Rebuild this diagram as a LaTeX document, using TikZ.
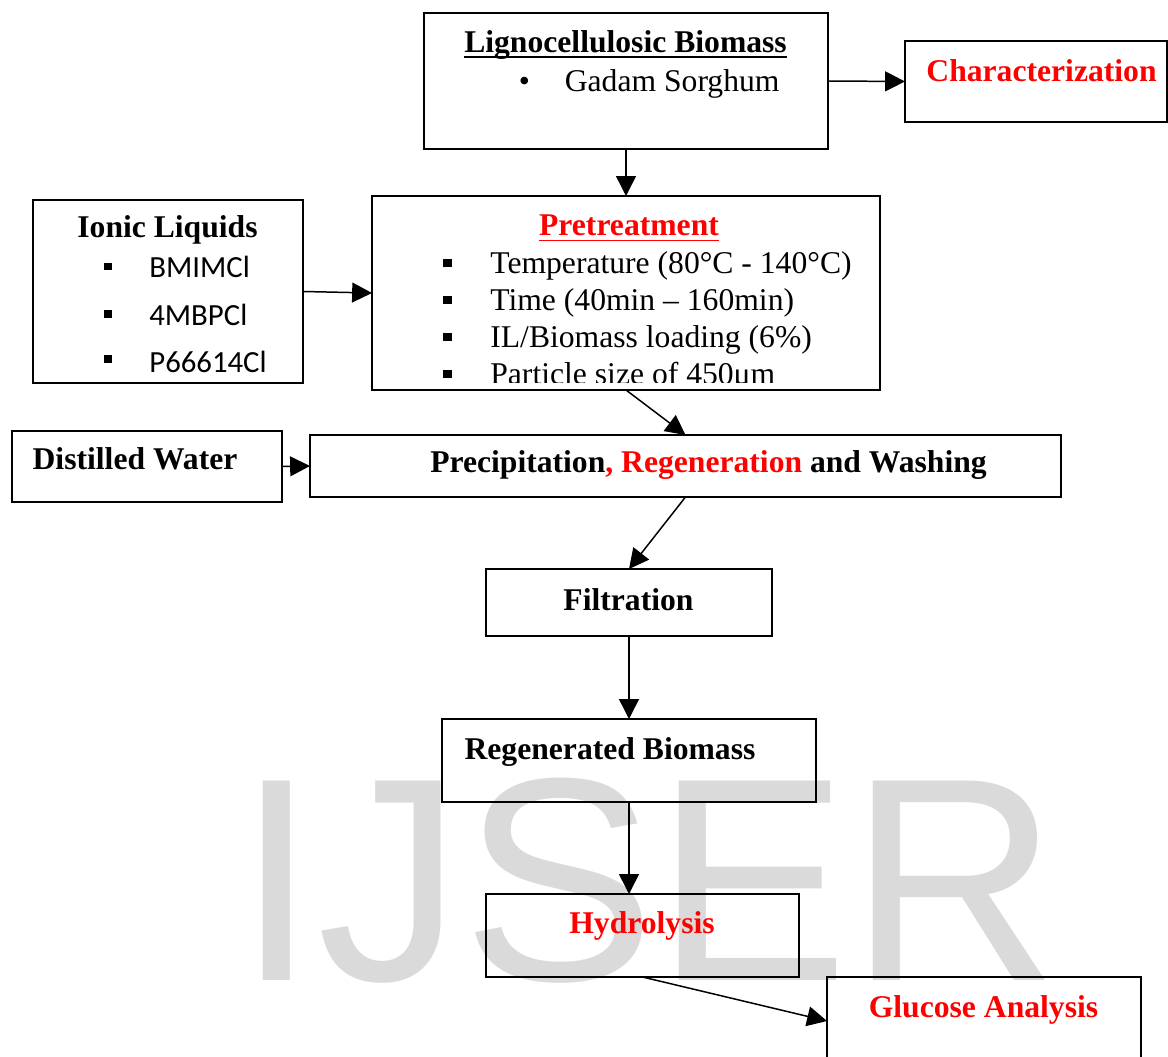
\documentclass[tikz,border=0pt]{standalone}
\usepackage{fontspec}
\setmainfont{Liberation Serif}
\newfontfamily\calfont{Carlito}
\newfontfamily\wmfont{Liberation Sans}
\usetikzlibrary{arrows.meta,calc}

\definecolor{wmgray}{RGB}{218,218,218}

\begin{document}
\begin{tikzpicture}[x=0.2mm,y=-0.2mm,
  box/.style={draw,line width=1pt,inner sep=0,outer sep=0},
  lbl/.style={inner sep=0,anchor=base,font=\bfseries\fontsize{18}{21}\selectfont},
  itm/.style={inner sep=0,anchor=base west,font=\fontsize{18}{21}\selectfont},
  sitm/.style={inner sep=0,anchor=base west,font=\calfont\fontsize{17.5}{21}\selectfont},
  sq/.style={fill,inner sep=0,minimum size=#1},
  arr/.style={-{Triangle[length=11.3pt,width=11.3pt]},line width=0.85pt}]
\useasboundingbox (0,0) rectangle (1168,1057);

% watermark
\node[inner sep=0,anchor=base west,text=wmgray,font=\wmfont\fontsize{165}{165}\selectfont] (wm) at (236.5,980) {IJSER};

% boxes
\node[box,minimum width=80.8mm,minimum height=27.2mm] (ligno) at (626,81) {};
\node[box,minimum width=52.4mm,minimum height=16.2mm] (char) at (1036,81.5) {};
\node[box,minimum width=54mm,minimum height=36.6mm] (ion) at (168,291.5) {};
\node[box,minimum width=101.6mm,minimum height=38.8mm] (pre) at (626,293) {};
\node[box,minimum width=54mm,minimum height=14.2mm] (dw) at (147,466.5) {};
\node[box,minimum width=150.2mm,minimum height=12.4mm] (precip) at (685.5,466) {};
\node[box,minimum width=57.2mm,minimum height=13.4mm] (filt) at (629,602.5) {};
\node[box,minimum width=74.8mm,minimum height=16.6mm] (regen) at (629,760.5) {};
\node[box,minimum width=62.6mm,minimum height=16.6mm] (hydro) at (642.5,935.5) {};
\node[box,minimum width=62.8mm,minimum height=17.6mm] (gluc) at (984,1021) {};

% texts
\node[lbl] (lignot) at (625.5,52.7) {Lignocellulosic Biomass};
\draw[line width=0.8pt] ([yshift=-2.5pt]lignot.base west) -- ([yshift=-2.5pt]lignot.base east);
\node[itm,anchor=base] (dot) at (524.5,92) {•};
\node[itm] (gadam) at (564.5,92) {Gadam Sorghum};
\node[lbl,text=red] (chart) at (1041.5,82) {Characterization};

\node[lbl] (iont) at (167.5,238) {Ionic Liquids};
\foreach \y/\b/\t [count=\i] in {278/266.5/BMIMCl,326/314/4MBPCl,373/359/P66614Cl} {
  \node[sq=4.5pt] (ib\i) at (108,\b) {};
  \node[sitm] (it\i) at (149,\y) {\t};
}

\node[lbl,text=red] (pret) at (629,235.5) {Pretreatment};
\draw[red,line width=0.8pt] ([yshift=-3pt]pret.base west) -- ([yshift=-3pt]pret.base east);
\begin{scope}
\clip (372,196) rectangle (880,383);
\foreach \y/\t [count=\i] in {273.5/{Temperature (80°C - 140°C)},310.5/{Time (40min -- 160min)},
    347.6/{IL/Biomass loading (6\%)},384.5/{Particle size of 450μm}} {
  \node[sq=4.8pt] (pb\i) at (447.5,\y-10.5) {};
  \node[itm] (pt\i) at (490,\y) {\t};
}
\end{scope}

\node[lbl] (dwt) at (135,470) {Distilled Water};
\node[lbl] (prect) at (708.5,473) {Precipitation{\color{red}, Regeneration} and Washing};
\node[lbl] (filtt) at (628.5,610) {Filtration};
\node[lbl] (regent) at (610,759) {Regenerated Biomass};
\node[lbl,text=red] (hydrot) at (642,933) {Hydrolysis};
\node[lbl,text=red] (glucot) at (983.5,1017) {Glucose Analysis};

% arrows
\draw[arr] (ligno.east) -- (char.west);
\draw[arr] (ligno.south) -- (pre.north);
\draw[arr] (ion.east) -- (pre.west);
\draw[arr] (pre.south) -- (precip.north);
\draw[arr] (dw.east) -- (precip.west);
\draw[arr] (precip.south) -- (filt.north);
\draw[arr] (filt.south) -- (regen.north);
\draw[arr] (regen.south) -- (regen.south |- hydro.north);
\draw[arr] (hydro.south) -- (gluc.west);
\end{tikzpicture}
\end{document}
